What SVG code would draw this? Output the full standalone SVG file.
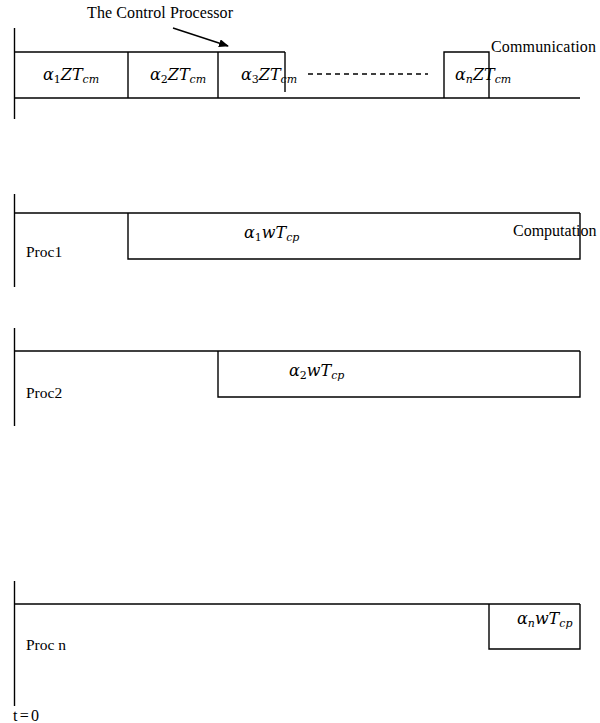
<svg xmlns="http://www.w3.org/2000/svg" width="600" height="723" viewBox="0 0 600 723">
<style>
.ln{stroke:#000;stroke-width:1.4;fill:none}
.t{font-family:"Liberation Serif","DejaVu Serif",serif;font-size:16px;fill:#000}
.p{font-family:"Liberation Serif","DejaVu Serif",serif;font-size:15.5px;fill:#000}
.m{font-family:"DejaVu Serif","Liberation Serif",serif;font-size:16px;font-style:italic;fill:#000}
.s{font-size:11px}
</style>
<defs>
<marker id="ah" markerWidth="10" markerHeight="8" refX="9" refY="4" orient="auto" markerUnits="userSpaceOnUse">
<path d="M0,0 L10,4 L0,8 z" fill="#000"/>
</marker>
</defs>
<rect width="600" height="723" fill="#fff"/>
<g id="connectors">
<line class="ln" x1="173" y1="28" x2="228" y2="46" marker-end="url(#ah)"/>
</g>
<g id="communication">
<line class="ln" x1="14.5" y1="28" x2="14.5" y2="119"/>
<line class="ln" x1="14" y1="52" x2="285" y2="52"/>
<line class="ln" x1="14" y1="98" x2="580" y2="98"/>
<line class="ln" x1="128" y1="52" x2="128" y2="98"/>
<line class="ln" x1="218" y1="52" x2="218" y2="98"/>
<line class="ln" x1="285" y1="52" x2="285" y2="92"/>
<line class="ln" x1="308" y1="74" x2="428" y2="74" stroke-dasharray="5,4"/>
<polyline class="ln" points="444,98 444,52 489,52 489,98"/>
<text class="t" x="87" y="18" textLength="146">The Control Processor</text>
<text class="t" x="491" y="52" textLength="105">Communication</text>
<text class="m" x="43" y="80">α<tspan class="s" font-style="normal" dy="3">1</tspan><tspan dy="-3">ZT</tspan><tspan class="s" dy="3">cm</tspan></text>
<text class="m" x="150" y="80">α<tspan class="s" font-style="normal" dy="3">2</tspan><tspan dy="-3">ZT</tspan><tspan class="s" dy="3">cm</tspan></text>
<text class="m" x="241" y="80">α<tspan class="s" font-style="normal" dy="3">3</tspan><tspan dy="-3">ZT</tspan><tspan class="s" dy="3">cm</tspan></text>
<text class="m" x="455" y="80">α<tspan class="s" dy="3">n</tspan><tspan dy="-3">ZT</tspan><tspan class="s" dy="3">cm</tspan></text>
</g>
<g id="proc1">
<line class="ln" x1="14.5" y1="194" x2="14.5" y2="287"/>
<line class="ln" x1="14" y1="213" x2="580" y2="213"/>
<polyline class="ln" points="128,213 128,259 580,259 580,213"/>
<text class="p" x="26" y="257">Proc1</text>
<text class="t" x="513" y="236">Computation</text>
<text class="m" x="244" y="238">α<tspan class="s" font-style="normal" dy="3">1</tspan><tspan dy="-3">wT</tspan><tspan class="s" dy="3">cp</tspan></text>
</g>
<g id="proc2">
<line class="ln" x1="14.5" y1="328" x2="14.5" y2="426"/>
<line class="ln" x1="14" y1="351" x2="580" y2="351"/>
<polyline class="ln" points="218,351 218,397 580,397 580,351"/>
<text class="p" x="26" y="398">Proc2</text>
<text class="m" x="289" y="376">α<tspan class="s" font-style="normal" dy="3">2</tspan><tspan dy="-3">wT</tspan><tspan class="s" dy="3">cp</tspan></text>
</g>
<g id="procn">
<line class="ln" x1="14.5" y1="581" x2="14.5" y2="706"/>
<line class="ln" x1="14" y1="604" x2="580" y2="604"/>
<polyline class="ln" points="489,604 489,649 580,649 580,604"/>
<text class="p" x="26" y="650">Proc n</text>
<text class="m" x="517" y="624">α<tspan class="s" dy="3">n</tspan><tspan dy="-3">wT</tspan><tspan class="s" dy="3">cp</tspan></text>
<text class="t" x="13" y="721" textLength="26">t=0</text>
</g>
</svg>
